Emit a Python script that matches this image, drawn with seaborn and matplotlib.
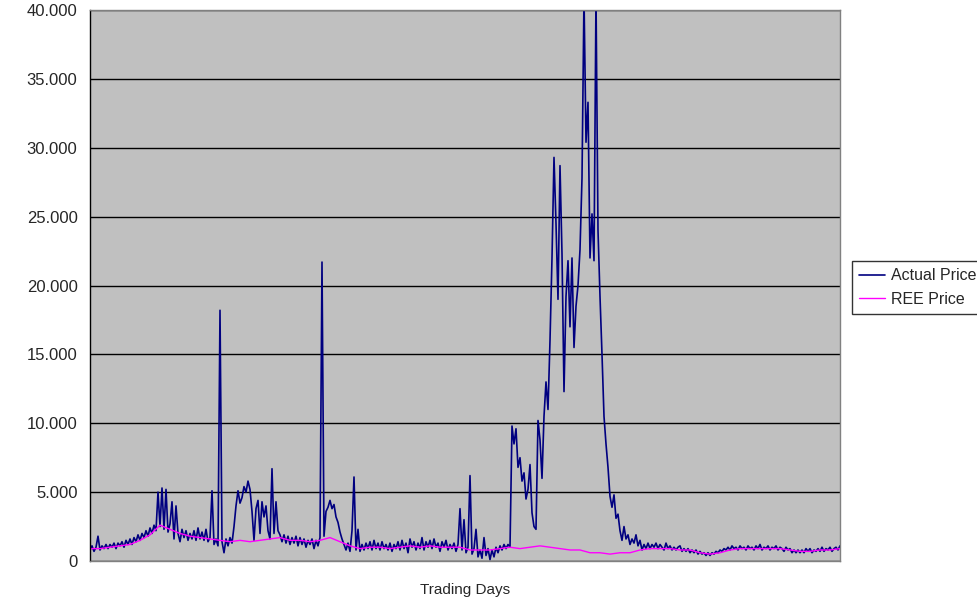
import numpy as np
import pandas as pd
import matplotlib
matplotlib.use("Agg")
import matplotlib.pyplot as plt
from matplotlib.ticker import FuncFormatter
import seaborn as sns

# Actual price (in thousands), one reading every 8 trading days
actual_early = [0.8, 1.1, 0.7, 1.0, 1.8, 0.8, 1.1, 0.9, 1.2, 0.9, 1.2, 1.0, 1.3, 0.9, 1.3, 1.1, 1.4, 1.0,
                1.5, 1.2, 1.6, 1.2, 1.7, 1.4, 1.9, 1.5, 2.0, 1.7, 2.2, 1.8, 2.4, 2.0, 2.6, 2.2, 5.0, 2.5,
                5.3, 2.3, 5.2, 2.1, 2.7, 4.3, 1.6, 4.0, 2.0, 1.4, 2.3, 1.7, 2.2, 1.5, 2.0, 1.6, 2.2, 1.5,
                2.4, 1.6, 2.1, 1.5, 2.3, 1.4, 1.7, 5.1, 1.2, 1.6, 1.1, 18.2]
actual_mid = [1.4, 0.6, 1.6, 1.1, 1.7, 1.3, 2.5, 4.0, 5.1, 4.2, 4.6, 5.4, 5.0, 5.8, 5.2, 3.6, 1.5, 3.8,
              4.4, 2.0, 4.3, 3.2, 4.0, 2.2, 1.6, 6.7, 2.0, 4.3, 2.2, 1.9,
              1.4, 1.9, 1.3, 1.8, 1.2, 1.7, 1.3, 1.8, 1.1, 1.7, 1.2, 1.6, 1.0, 1.5, 1.2, 1.6, 0.9, 1.5,
              1.1, 1.7, 21.7, 1.8, 3.6, 3.9, 4.4, 3.8, 4.1, 3.2, 2.8, 2.1]
actual_flat = [1.6, 1.2, 0.8, 1.3, 0.7, 2.2, 6.1, 0.8, 2.3, 0.7, 1.2, 0.8, 1.3, 0.9, 1.4, 0.8, 1.5, 0.9,
               1.3, 0.8, 1.4, 0.9, 1.2, 0.8, 1.3, 0.7, 1.2, 0.9, 1.4, 0.8,
               1.5, 0.9, 1.3, 0.6, 1.6, 1.0, 1.4, 0.8, 1.3, 0.9, 1.7, 0.8, 1.4, 1.0, 1.5, 0.9, 1.6, 1.0,
               1.3, 0.7, 1.4, 1.0, 1.5, 0.8, 1.2, 0.9, 1.3, 0.7, 1.2, 3.8,
               0.8, 3.0, 0.6, 1.0, 6.2, 0.5, 0.9, 2.3, 0.3, 0.8, 0.2, 1.7, 0.4, 0.9, 0.1, 0.8, 0.3, 1.0,
               0.6, 1.1, 0.8, 1.2, 0.9, 1.2, 1.0]
actual_boom = [9.8, 8.5, 9.6, 6.8, 7.5, 5.8, 6.4, 4.5, 5.2, 7.0, 3.5, 2.5, 2.3, 10.2, 8.8, 6.0, 10.5,
               13.0, 11.0, 16.0, 22.0, 29.3, 24.5, 19.0, 28.7,
               22.3, 12.3, 19.2, 21.8, 17.0, 22.0, 15.5, 18.5, 20.0, 22.6, 27.8, 41.0, 30.4, 33.3, 22.0,
               25.2, 21.8, 41.0, 24.0, 19.2, 15.0, 10.5, 8.5, 6.8, 4.7,
               3.9, 4.8, 3.1, 3.4, 2.2, 1.5, 2.5, 1.6, 1.9, 1.2, 1.6, 1.3, 1.9, 1.1, 1.5, 0.8, 1.2, 0.9,
               1.3, 0.9, 1.2, 1.0, 1.3, 0.9, 1.2]
actual_late = [1.0, 0.8, 1.3, 0.9, 1.1, 0.8, 1.0, 0.8, 1.0, 1.1, 0.7, 0.9, 0.7, 0.9, 0.6, 0.8, 0.6, 0.8,
               0.5, 0.7, 0.5, 0.6, 0.4, 0.6, 0.4, 0.6, 0.5, 0.7, 0.6, 0.8,
               0.7, 0.9, 0.8, 1.0, 0.8, 1.1, 0.9, 1.0, 0.8, 1.1, 0.9, 1.0, 0.8, 1.1, 0.9, 1.0, 0.8, 1.1,
               0.9, 1.2, 0.8, 1.0, 0.9, 1.1, 0.8, 1.0, 0.9, 1.1, 0.8, 1.0,
               0.9, 0.7, 1.0, 0.8, 0.9, 0.6, 0.8, 0.6, 0.8, 0.6, 0.8, 0.6, 0.9, 0.7, 0.9, 0.6, 0.8, 0.7,
               0.9, 0.7, 1.0, 0.7, 0.9, 0.8, 1.0, 0.7, 0.9, 1.0, 0.8, 1.1]

# REE price (in thousands), one reading every 40 trading days
ree_price = [0.9, 0.9, 1.0, 1.1, 1.2, 1.5, 1.9, 2.6, 2.3, 2.0, 1.8, 1.7, 1.6, 1.5, 1.4, 1.5, 1.4, 1.5,
             1.6, 1.7, 1.5, 1.5, 1.4, 1.5, 1.7, 1.4, 1.1, 0.9, 1.0, 1.0, 0.9, 1.0, 1.1, 1.0, 1.1, 1.0,
             1.0, 1.0, 0.8, 0.8, 0.8, 0.9, 1.0, 0.9, 1.0, 1.1, 1.0, 0.9, 0.8, 0.8, 0.6, 0.6, 0.5, 0.6,
             0.6, 0.8, 0.9, 0.9, 0.9, 0.8, 0.8, 0.6, 0.5, 0.6, 0.8, 0.9, 0.9, 0.9, 0.9, 0.9, 0.8, 0.7,
             0.7, 0.8, 0.8, 0.9]

actual = np.array(actual_early + actual_mid + actual_flat + actual_boom + actual_late) * 1000
ree = np.array(ree_price) * 1000
actual_df = pd.DataFrame({"day": np.arange(len(actual)) * 8, "price": actual})
ree_df = pd.DataFrame({"day": np.arange(len(ree)) * 40, "price": ree})

sns.set_style("white")
plt.rcParams["font.family"] = ["Liberation Sans", "DejaVu Sans"]

fig = plt.figure(figsize=(9.77, 6.0), dpi=100)
ax = fig.add_axes([90 / 977, 39 / 600, 750 / 977, 551 / 600])
ax.set_facecolor("#C0C0C0")

sns.lineplot(data=actual_df, x="day", y="price", ax=ax, color="#000080", lw=1.2,
             estimator=None, sort=False, label="Actual Price")
sns.lineplot(data=ree_df, x="day", y="price", ax=ax, color="#FF00FF", lw=1.0,
             estimator=None, sort=False, label="REE Price")

ax.set_xlim(0, actual_df["day"].max())
ax.set_ylim(0, 40000)
ax.set_yticks(np.arange(0, 40001, 5000))
ax.yaxis.set_major_formatter(FuncFormatter(lambda v, p: f"{v:,.0f}".replace(",", ".")))
ax.set_xticks([])
ax.grid(axis="y", color="black", lw=1.0)
ax.set_axisbelow(True)
ax.tick_params(axis="y", direction="out", length=5, width=1, color="black", labelsize=12, pad=4)
for side in ["top", "right", "bottom"]:
    ax.spines[side].set_color("#808080")
    ax.spines[side].set_linewidth(1)
ax.spines["left"].set_color("black")
ax.spines["left"].set_linewidth(1)
ax.set_xlabel("Trading Days", fontsize=11, labelpad=16)
ax.set_ylabel("")

ax.get_legend().remove()
handles, labels = ax.get_legend_handles_labels()
leg = fig.legend(handles, labels, loc="upper left", bbox_to_anchor=(852 / 977, 1 - 261 / 600),
                 fontsize=11.5, frameon=True, fancybox=False, handlelength=1.6, handletextpad=0.4,
                 borderpad=0.45, labelspacing=0.55, borderaxespad=0)
leg.get_frame().set_edgecolor("black")
leg.get_frame().set_linewidth(1)

fig.savefig("out.png", dpi=100)
